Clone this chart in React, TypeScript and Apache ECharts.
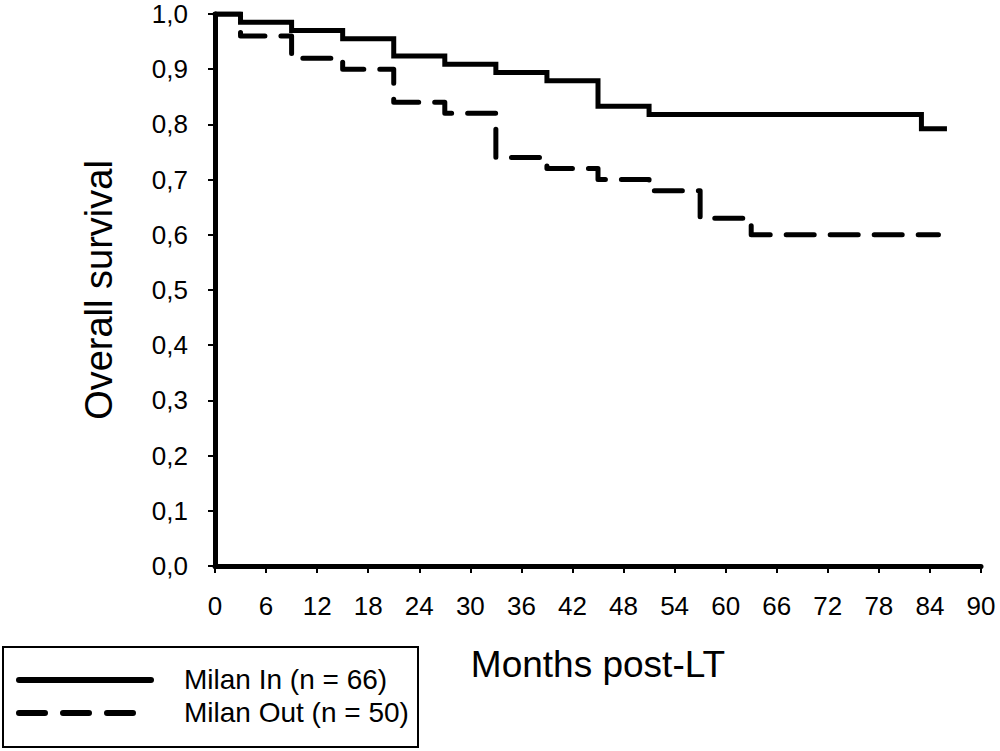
import React, { useEffect, useRef } from "react";
import * as echarts from "echarts";

const inTimes = [0, 3, 9, 15, 21, 27, 33, 39, 45, 51, 83, 86];
const inSurv = [1.0, 0.985, 0.97, 0.955, 0.924, 0.909, 0.894, 0.879, 0.833, 0.818, 0.792, 0.792];
const outTimes = [0, 3, 9, 15, 21, 27, 33, 39, 45, 51, 57, 63, 85];
const outSurv = [1.0, 0.96, 0.92, 0.9, 0.84, 0.82, 0.74, 0.72, 0.7, 0.68, 0.63, 0.6, 0.6];
const legendLabels = ["Milan In (n = 66)", "Milan Out (n = 50)"];
const xTitle = "Months post-LT";
const yTitle = "Overall survival";

const FONT = '"Liberation Sans", Arial, Helvetica, sans-serif';

export default function App() {
  const ref = useRef<HTMLDivElement>(null);
  useEffect(() => {
    if (!ref.current) return;
    const chart = echarts.init(ref.current, null, { renderer: "svg" });
    const axisCommon = {
      axisLine: { show: true, lineStyle: { color: "#000", width: 5, cap: "round" } },
      axisTick: { show: true, inside: false, length: 7, lineStyle: { color: "#000", width: 2 } },
      splitLine: { show: false },
    };
    chart.setOption({
      animation: false,
      backgroundColor: "#fff",
      textStyle: { fontFamily: FONT },
      grid: { left: 215, right: 19, top: 14, bottom: 185, containLabel: false },
      xAxis: {
        type: "value",
        min: 0,
        max: 90,
        interval: 6,
        ...axisCommon,
        axisLabel: { color: "#000", fontSize: 26, fontFamily: FONT, margin: 27 },
        name: xTitle,
        nameLocation: "middle",
        nameGap: 80,
        nameTextStyle: { color: "#000", fontSize: 37, fontFamily: FONT },
      },
      yAxis: {
        type: "value",
        min: 0,
        max: 1,
        interval: 0.1,
        ...axisCommon,
        axisLabel: {
          color: "#000",
          fontSize: 26,
          fontFamily: FONT,
          margin: 27,
          formatter: (v: number) => v.toFixed(1).replace(".", ","),
        },
        name: yTitle,
        nameLocation: "middle",
        nameRotate: 90,
        nameGap: 97,
        nameTextStyle: { color: "#000", fontSize: 38, fontFamily: FONT },
      },
      series: [
        {
          name: legendLabels[0],
          type: "line",
          step: "end",
          symbol: "none",
          data: inTimes.map((t, i) => [t, inSurv[i]]),
          lineStyle: { color: "#000", width: 5, type: "solid", join: "miter", cap: "butt" },
          z: 3,
        },
        {
          name: legendLabels[1],
          type: "line",
          step: "end",
          symbol: "none",
          data: outTimes.map((t, i) => [t, outSurv[i]]),
          lineStyle: { color: "#000", width: 5, type: [28, 16], join: "round", cap: "round" },
          z: 3,
        },
      ],
      graphic: [
        {
          type: "rect",
          shape: { x: 3, y: 647, width: 415, height: 100 },
          style: { fill: "#fff", stroke: "#000", lineWidth: 2 },
        },
        {
          type: "line",
          shape: { x1: 19, y1: 680, x2: 151, y2: 680 },
          style: { stroke: "#000", lineWidth: 6, lineCap: "round" },
        },
        {
          type: "line",
          shape: { x1: 19, y1: 713, x2: 137, y2: 713 },
          style: { stroke: "#000", lineWidth: 6, lineCap: "round", lineDash: [26, 18] },
        },
        {
          type: "text",
          x: 184,
          y: 679,
          style: { text: legendLabels[0], fill: "#000", fontSize: 28, fontFamily: FONT, verticalAlign: "middle", align: "left" },
        },
        {
          type: "text",
          x: 184,
          y: 712,
          style: { text: legendLabels[1], fill: "#000", fontSize: 28, fontFamily: FONT, verticalAlign: "middle", align: "left" },
        },
      ],
    });
    return () => chart.dispose();
  }, []);
  return (
    <div
      ref={ref}
      style={{ position: "fixed", left: 0, top: 0, width: 1000, height: 751, background: "#fff" }}
    />
  );
}
